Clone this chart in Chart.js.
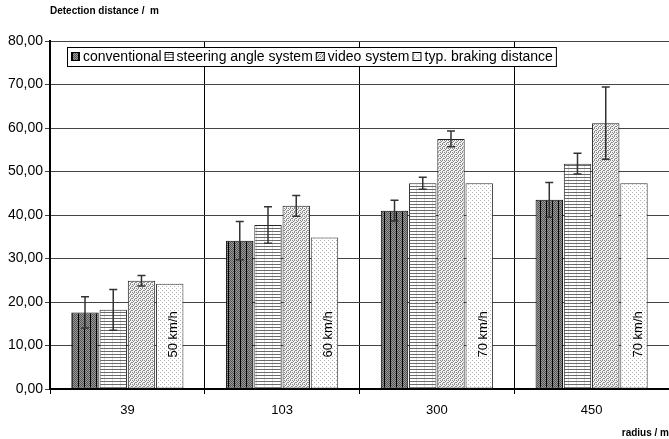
<!DOCTYPE html>
<html>
<head>
<meta charset="utf-8">
<script src="https://cdn.jsdelivr.net/npm/chart.js@4/dist/chart.umd.min.js"></script>
<style>
  body { margin: 0; background: #fff; }
  canvas { display: block; }
</style>
</head>
<body>
<canvas id="myChart" width="669" height="439"></canvas>
<script>
// data
var radii = ['39', '103', '300', '450'];
var seriesNames = ['conventional', 'steering angle system', 'video system', 'typ. braking distance'];
var conventional = [17.6, 34.1, 41.0, 43.5];
var steeringAngle = [18.2, 37.7, 47.3, 51.8];
var videoSystem = [24.9, 42.1, 57.5, 61.1];
var brakingDistance = [24.2, 34.8, 47.3, 47.3];
var conventionalErr = [3.6, 4.4, 2.4, 4.0];
var steeringAngleErr = [4.7, 4.2, 1.4, 2.4];
var videoSystemErr = [1.2, 2.4, 1.8, 8.3];
var speedLabels = ['50 km/h', '60 km/h', '70 km/h', '70 km/h'];
var yTicks = [0, 10, 20, 30, 40, 50, 60, 70, 80];

var FONT = '"Liberation Sans", Arial, sans-serif';

function makePattern(w, h, draw) {
    var c = document.createElement('canvas');
    c.width = w; c.height = h;
    var g = c.getContext('2d');
    draw(g);
    return g.createPattern(c, 'repeat');
}

var pctx = document.getElementById('myChart').getContext('2d');

// dark checker with vertical black lines
var patConventional = makePattern(6, 2, function (g) {
    g.fillStyle = '#9a9a9a'; g.fillRect(0, 0, 6, 2);
    g.fillStyle = '#555';
    for (var x = 1; x < 6; x++) g.fillRect(x, (x % 2), 1, 1);
    g.fillStyle = '#000'; g.fillRect(0, 0, 1, 2);
});
// horizontal lines
var patSteering = makePattern(8, 3, function (g) {
    g.fillStyle = '#fff'; g.fillRect(0, 0, 8, 3);
    g.fillStyle = '#dcdcdc'; g.fillRect(0, 0, 1, 3);
    g.fillStyle = '#6a6a6a'; g.fillRect(0, 0, 8, 1);
});
// dense dither
var patVideo = makePattern(4, 4, function (g) {
    g.fillStyle = '#f2f2f2'; g.fillRect(0, 0, 4, 4);
    g.fillStyle = '#8a8a8a';
    g.fillRect(0, 0, 1, 1); g.fillRect(2, 0, 1, 1);
    g.fillRect(1, 1, 1, 1);
    g.fillRect(0, 2, 1, 1); g.fillRect(3, 2, 1, 1);
    g.fillRect(2, 3, 1, 1);
});
// sparse dots
var patBraking = makePattern(4, 4, function (g) {
    g.fillStyle = '#fff'; g.fillRect(0, 0, 4, 4);
    g.fillStyle = '#b0b0b0';
    g.fillRect(0, 0, 1, 1); g.fillRect(2, 2, 1, 1);
});

var errorBars = {
    id: 'errorBars',
    afterDatasetsDraw: function (chart) {
        var ctx = chart.ctx;
        var ys = chart.scales.y;
        // speed labels inside the braking distance bars
        var meta = chart.getDatasetMeta(3);
        ctx.save();
        ctx.fillStyle = '#000';
        ctx.font = '13px ' + FONT;
        ctx.textAlign = 'left';
        ctx.textBaseline = 'middle';
        meta.data.forEach(function (bar, i) {
            ctx.save();
            ctx.translate(bar.x + 4, bar.base - 31);
            ctx.rotate(-Math.PI / 2);
            ctx.fillText(speedLabels[i], 0, 0);
            ctx.restore();
        });
        ctx.restore();

        ctx.save();
        ctx.strokeStyle = '#333';
        ctx.lineWidth = 1.5;
        chart.data.datasets.forEach(function (ds, di) {
            if (!ds.err) return;
            chart.getDatasetMeta(di).data.forEach(function (bar, i) {
                var v = ds.data[i], e = ds.err[i];
                var top = ys.getPixelForValue(v + e);
                var bot = ys.getPixelForValue(v - e);
                ctx.beginPath();
                ctx.moveTo(bar.x, top); ctx.lineTo(bar.x, bot);
                ctx.moveTo(bar.x - 4, top); ctx.lineTo(bar.x + 4, top);
                ctx.moveTo(bar.x - 4, bot); ctx.lineTo(bar.x + 4, bot);
                ctx.stroke();
            });
        });
        ctx.restore();
    },
    afterDraw: function (chart) {
        var ctx = chart.ctx;
        var area = chart.chartArea;
        ctx.save();
        // axis title at the top left
        ctx.fillStyle = '#000';
        ctx.font = 'bold 10px ' + FONT;
        ctx.textAlign = 'left';
        ctx.textBaseline = 'middle';
        ctx.fillText('Detection distance /  m', 50, 11);

        // legend box inside the plot
        ctx.font = '14px ' + FONT;
        var x0 = area.left + 17, y0 = area.top + 6, h = 19;
        var items = [];
        var x = x0 + 4;
        chart.data.datasets.forEach(function (ds) {
            var w = ctx.measureText(ds.label).width;
            items.push({ x: x, ds: ds });
            x += 9 + 3 + w + 3;
        });
        var boxW = x - x0;
        ctx.fillStyle = '#fff';
        ctx.fillRect(x0, y0, boxW, h);
        ctx.strokeStyle = '#000';
        ctx.lineWidth = 1;
        ctx.strokeRect(x0 + 0.5, y0 + 0.5, boxW, h);
        items.forEach(function (it) {
            ctx.fillStyle = it.ds.backgroundColor;
            ctx.fillRect(it.x, y0 + 5, 9, 9);
            ctx.strokeStyle = '#000';
            ctx.strokeRect(it.x + 0.5, y0 + 5.5, 8, 8);
            ctx.fillStyle = '#000';
            ctx.fillText(it.ds.label, it.x + 12, y0 + h / 2 + 1);
        });
        ctx.restore();
    }
};

var myChart = new Chart(pctx, {
    type: 'bar',
    data: {
        labels: radii,
        datasets: [
            { label: seriesNames[0], data: conventional, err: conventionalErr, backgroundColor: patConventional, borderColor: '#000' },
            { label: seriesNames[1], data: steeringAngle, err: steeringAngleErr, backgroundColor: patSteering, borderColor: '#222' },
            { label: seriesNames[2], data: videoSystem, err: videoSystemErr, backgroundColor: patVideo, borderColor: '#222' },
            { label: seriesNames[3], data: brakingDistance, backgroundColor: patBraking, borderColor: '#333' }
        ]
    },
    options: {
        responsive: false,
        animation: false,
        devicePixelRatio: 1,
        layout: { padding: { top: 41, right: 0, left: 0, bottom: 0 } },
        datasets: {
            bar: { categoryPercentage: 0.73, barPercentage: 0.97, borderWidth: 1, borderSkipped: false }
        },
        plugins: {
            legend: { display: false },
            tooltip: { enabled: false }
        },
        scales: {
            x: {
                grid: { color: '#000', lineWidth: 1, offset: true, tickLength: 5 },
                border: { color: '#000', width: 2 },
                ticks: { color: '#000', font: { family: FONT, size: 13 }, padding: 9 },
                title: {
                    display: true, text: 'radius / m', align: 'end', color: '#000',
                    font: { family: FONT, size: 10, weight: 'bold' }, padding: { top: 6, bottom: 0 }
                },
                afterFit: function (s) { s.height = 50; }
            },
            y: {
                min: 0, max: 80,
                afterBuildTicks: function (s) { s.ticks = yTicks.map(function (v) { return { value: v }; }); },
                grid: { color: '#444', lineWidth: 1, tickLength: 5 },
                border: { color: '#000', width: 2 },
                ticks: {
                    color: '#000', font: { family: FONT, size: 14 }, padding: 2,
                    callback: function (v) { return v.toFixed(2).replace('.', ','); }
                },
                afterFit: function (s) { s.width = 50; }
            }
        }
    },
    plugins: [errorBars]
});
</script>
</body>
</html>
